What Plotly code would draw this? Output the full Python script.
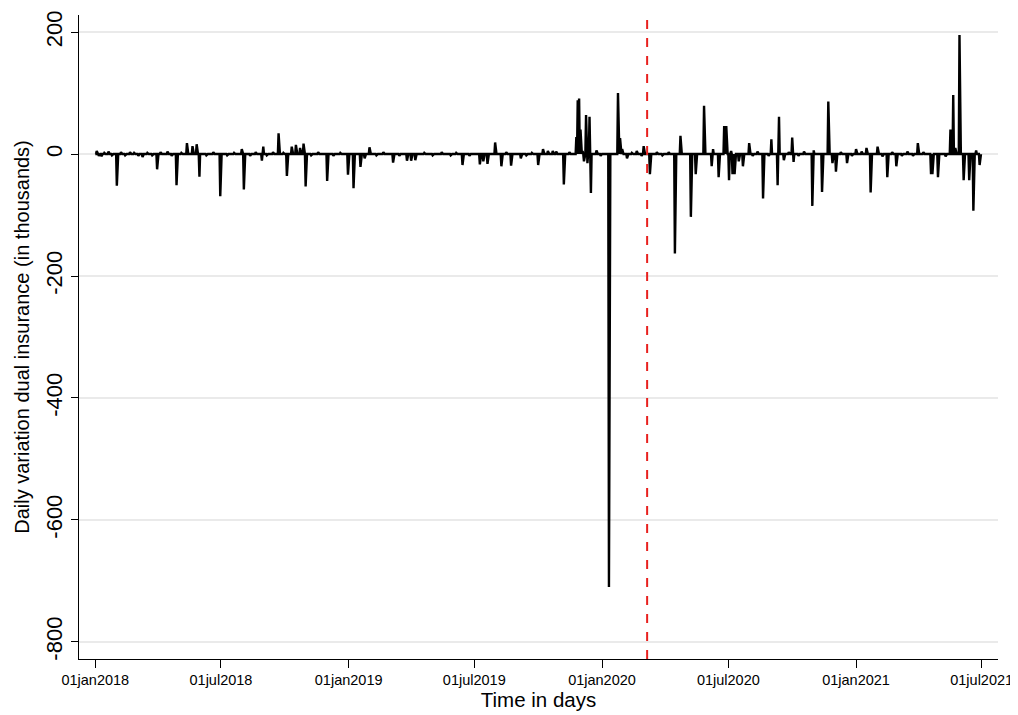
import pandas as pd
import plotly.graph_objects as go

# ---- data (in thousands) ----
start_date = "2018-01-01"
end_date = "2021-06-30"

spike_dates = [
    "2018-01-03", "2018-01-10", "2018-01-20", "2018-02-01", "2018-02-20", "2018-03-10",
    "2018-03-31", "2018-04-15", "2018-04-28", "2018-05-13", "2018-05-21", "2018-05-27",
    "2018-05-31", "2018-06-30", "2018-07-31", "2018-08-03", "2018-08-29", "2018-08-31",
    "2018-09-22", "2018-10-04", "2018-10-11", "2018-10-17", "2018-10-23", "2018-10-28",
    "2018-10-31", "2018-12-01", "2018-12-31", "2019-01-08", "2019-01-18", "2019-01-24",
    "2019-01-31", "2019-03-06", "2019-03-26", "2019-04-01", "2019-04-07", "2019-06-14",
    "2019-07-09", "2019-07-14", "2019-07-20", "2019-07-31", "2019-08-09", "2019-08-23",
    "2019-09-06", "2019-10-01", "2019-10-08", "2019-10-15", "2019-10-22", "2019-10-27",
    "2019-11-07", "2019-11-25", "2019-11-27", "2019-11-29", "2019-12-01", "2019-12-04",
    "2019-12-06", "2019-12-09", "2019-12-11", "2019-12-14", "2019-12-16", "2019-12-24",
    "2020-01-11", "2020-01-24", "2020-01-27", "2020-01-30", "2020-02-06", "2020-02-20",
    "2020-03-01", "2020-03-10", "2020-04-15", "2020-04-23", "2020-05-08", "2020-05-15",
    "2020-05-27", "2020-06-07", "2020-06-09", "2020-06-17", "2020-06-25", "2020-06-28",
    "2020-07-02", "2020-07-05", "2020-07-07", "2020-07-10", "2020-07-16", "2020-07-22",
    "2020-07-31", "2020-08-20", "2020-09-01", "2020-09-10", "2020-09-12", "2020-09-19",
    "2020-10-01", "2020-10-03", "2020-10-30", "2020-11-01", "2020-11-13", "2020-11-22",
    "2020-11-28", "2020-12-03", "2020-12-19", "2021-01-01", "2021-01-16", "2021-01-22",
    "2021-02-01", "2021-02-15", "2021-02-28", "2021-03-31", "2021-04-19", "2021-04-21",
    "2021-04-29", "2021-05-17", "2021-05-21", "2021-05-24", "2021-05-30", "2021-06-05",
    "2021-06-13", "2021-06-19", "2021-06-23", "2021-06-28",
]
spike_values = [
    5, -4, 4, -52, 3, -5,
    -25, 4, -51, 18, 13, 16,
    -37, -69, 8, -58, -11, 12,
    34, -36, 12, 15, 10, 17,
    -53, -44, -34, -56, -21, -7,
    11, -14, -11, -11, -10, -18,
    -17, -12, -16, 19, -20, -19,
    -7, -18, 8, 5, 5, 4,
    -50, 28, 88, 91, 40, 5,
    -12, 64, -15, 61, -64, 6,
    -710, 100, 26, 8, -7, 5,
    13, -33, -163, 30, -103, -33,
    79, -20, 8, -38, 46, 46,
    -43, 5, -33, -33, -12, -20,
    18, -73, 24, -51, 61, -10,
    27, -13, -85, 6, -62, 86,
    -15, -29, -15, 8, 10, -63,
    12, -38, -20, 18, -33, -33,
    -38, 40, 97, 10, 195, -43,
    -43, -93, 6, -18,
]

# small day-to-day wiggles of the baseline (estimated, in thousands)
minor_dates = [
    "2018-01-06", "2018-01-14", "2018-01-25", "2018-02-07", "2018-02-13", "2018-02-26",
    "2018-03-04", "2018-03-17", "2018-03-24", "2018-04-05", "2018-04-21", "2018-05-05",
    "2018-06-10", "2018-06-20", "2018-07-10", "2018-07-20", "2018-08-12", "2018-08-20",
    "2018-09-05", "2018-09-14", "2018-09-29", "2018-11-08", "2018-11-18", "2018-12-10",
    "2018-12-20", "2019-02-10", "2019-02-20", "2019-03-15", "2019-04-20", "2019-05-02",
    "2019-05-15", "2019-05-28", "2019-06-05", "2019-06-24", "2019-08-16", "2019-09-14",
    "2019-09-22", "2019-11-15", "2019-12-30", "2020-02-13", "2020-02-27", "2020-03-20",
    "2020-03-28", "2020-04-06", "2020-08-05", "2020-08-12", "2020-08-28", "2020-09-26",
    "2020-10-10", "2020-10-18", "2020-12-10", "2020-12-26", "2021-01-09", "2021-02-08",
    "2021-02-22", "2021-03-08", "2021-03-16", "2021-03-24", "2021-04-08", "2021-05-10",
]
minor_values = [
    -3, 2, -2, 3, -2, 2,
    -3, 2, -2, 3, -3, 2,
    -2, 3, -2, 2, -3, 3,
    -2, 3, 2, -2, 3, -3,
    2, -2, 3, -3, 2, -2,
    3, -2, 2, -3, 3, -2,
    2, 3, -3, 2, -3, 3,
    -2, 3, -3, 4, -3, 3,
    -3, 4, 3, -3, 4, -4,
    3, -3, 4, -3, 3, -4,
]

event_date = "2020-03-06"

tick_dates = ["2018-01-01", "2018-07-01", "2019-01-01", "2019-07-01",
              "2020-01-01", "2020-07-01", "2021-01-01", "2021-07-01"]
tick_labels = ["01jan2018", "01jul2018", "01jan2019", "01jul2019",
               "01jan2020", "01jul2020", "01jan2021", "01jul2021"]
y_ticks = [200, 0, -200, -400, -600, -800]
y_labels = ["200", "0", "-200", "-400", "-600", "-800"]

# ---- build daily series ----
days = pd.date_range(start_date, end_date, freq="D")
s = pd.concat([
    pd.Series(minor_values, index=pd.to_datetime(minor_dates)),
    pd.Series(spike_values, index=pd.to_datetime(spike_dates)),
])
s = s[~s.index.duplicated(keep="last")]
series = s.reindex(days, fill_value=0)

FONT = "Liberation Sans, Arial, sans-serif"

fig = go.Figure()
fig.add_trace(go.Scatter(
    x=series.index, y=series.values, mode="lines",
    line=dict(color="black", width=2.4), showlegend=False,
    hoverinfo="skip",
))

fig.add_shape(type="line", xref="x", yref="paper",
              x0=event_date, x1=event_date, y0=0, y1=1,
              line=dict(color="#E8201E", width=2, dash="dash"))

# page body has an 8px default margin, so the figure is sized to fit
fig.update_layout(
    width=1010, height=707,
    margin=dict(l=71, r=20, t=7, b=56),
    plot_bgcolor="white", paper_bgcolor="white",
    font=dict(family=FONT, color="black"),
    showlegend=False,
)
fig.update_xaxes(
    type="date", automargin=False,
    range=["2017-12-08 12:00", "2021-07-24 12:00"],
    tickmode="array", tickvals=tick_dates, ticktext=tick_labels,
    tickfont=dict(size=14.5, family=FONT, color="black"),
    showgrid=False, zeroline=False,
    showline=True, linecolor="black", linewidth=1,
    ticks="outside", ticklen=8, tickcolor="black", tickwidth=1,
    title=dict(text="Time in days", font=dict(size=20.5, family=FONT, color="black"), standoff=1),
)
fig.update_yaxes(
    automargin=False,
    range=[-828, 228],
    tickmode="array", tickvals=y_ticks, ticktext=y_labels, tickangle=-90,
    tickfont=dict(size=22, family=FONT, color="black"),
    showgrid=True, gridcolor="#EAEAEA", gridwidth=1.5, zeroline=False,
    showline=True, linecolor="black", linewidth=1,
    ticks="outside", ticklen=7, tickcolor="black", tickwidth=1,
    title=dict(text="Daily variation dual insurance (in thousands)",
               font=dict(size=20, family=FONT, color="black"), standoff=7),
)

fig.write_html("out.html")
